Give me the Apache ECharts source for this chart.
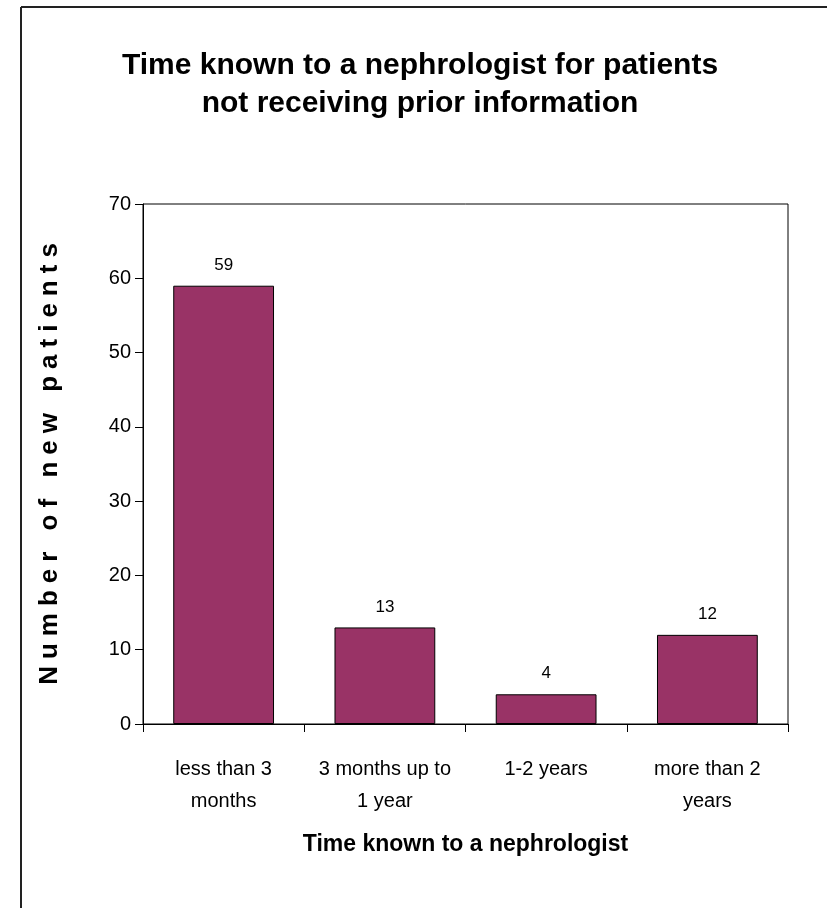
<!DOCTYPE html>
<html>
<head>
<meta charset="utf-8">
<script src="https://cdn.jsdelivr.net/npm/echarts@6/dist/echarts.min.js"></script>
<style>
    html, body { margin: 0; padding: 0; background: #fff; }
    #chart { width: 827px; height: 908px; }
</style>
</head>
<body>
<div id="chart"></div>
<script>
var categories = ['less than 3\nmonths', '3 months up to\n1 year', '1-2 years', 'more than 2\nyears'];
var patientCounts = [59, 13, 4, 12];
var yTicks = [0, 10, 20, 30, 40, 50, 60, 70];
var yTitle = 'Number of new patients';

var sans = '"Liberation Sans", Arial, sans-serif';

// the y title is letter-spaced in the original, so each letter gets a little padding
function spaced(str) {
    return str.split('').map(function (c) {
        return '{s|' + c + '}';
    }).join('');
}

var chart = echarts.init(document.getElementById('chart'), null, {renderer: 'canvas'});

chart.setOption({
    backgroundColor: '#fff',
    animation: false,
    title: {
        text: 'Time known to a nephrologist for patients\nnot receiving prior information',
        left: 415,
        top: 42,
        textAlign: 'center',
        textStyle: {
            fontFamily: sans,
            fontWeight: 'bold',
            fontSize: 30,
            lineHeight: 38,
            color: '#000'
        }
    },
    graphic: [
        {type: 'line', shape: {x1: 21, y1: 7, x2: 827, y2: 7}, style: {stroke: '#222', lineWidth: 2}},
        {type: 'line', shape: {x1: 21, y1: 7, x2: 21, y2: 908}, style: {stroke: '#222', lineWidth: 2}}
    ],
    grid: {
        left: 143,
        right: 39,
        top: 204,
        bottom: 184,
        show: true,
        borderColor: '#000',
        borderWidth: 1
    },
    xAxis: {
        type: 'category',
        data: categories,
        name: 'Time known to a nephrologist',
        nameLocation: 'middle',
        nameGap: 109,
        nameTextStyle: {
            fontFamily: sans,
            fontWeight: 'bold',
            fontSize: 23,
            color: '#000'
        },
        axisLine: {lineStyle: {color: '#000', width: 1}},
        axisTick: {show: true, length: 8, lineStyle: {color: '#000'}},
        axisLabel: {
            fontFamily: sans,
            fontSize: 20,
            lineHeight: 32,
            color: '#000',
            margin: 29,
            interval: 0
        }
    },
    yAxis: {
        type: 'value',
        min: yTicks[0],
        max: yTicks[yTicks.length - 1],
        interval: 10,
        name: spaced(yTitle),
        nameLocation: 'middle',
        nameGap: 80,
        nameTextStyle: {
            fontFamily: sans,
            fontWeight: 'bold',
            fontSize: 26,
            color: '#000',
            rich: {
                s: {
                    fontFamily: sans,
                    fontWeight: 'bold',
                    fontSize: 26,
                    color: '#000',
                    padding: [0, 3.5, 0, 3.5]
                }
            }
        },
        splitLine: {show: false},
        axisLine: {show: true, lineStyle: {color: '#000', width: 1}},
        axisTick: {show: true, length: 8, lineStyle: {color: '#000'}},
        axisLabel: {
            fontFamily: sans,
            fontSize: 20,
            color: '#000',
            margin: 12
        }
    },
    series: [{
        name: yTitle,
        type: 'bar',
        data: patientCounts,
        barWidth: '62.5%',
        itemStyle: {
            color: '#993366',
            borderColor: '#000',
            borderWidth: 1
        },
        label: {
            show: true,
            position: 'top',
            distance: 12,
            fontFamily: sans,
            fontSize: 17,
            color: '#000'
        }
    }]
});
</script>
</body>
</html>
